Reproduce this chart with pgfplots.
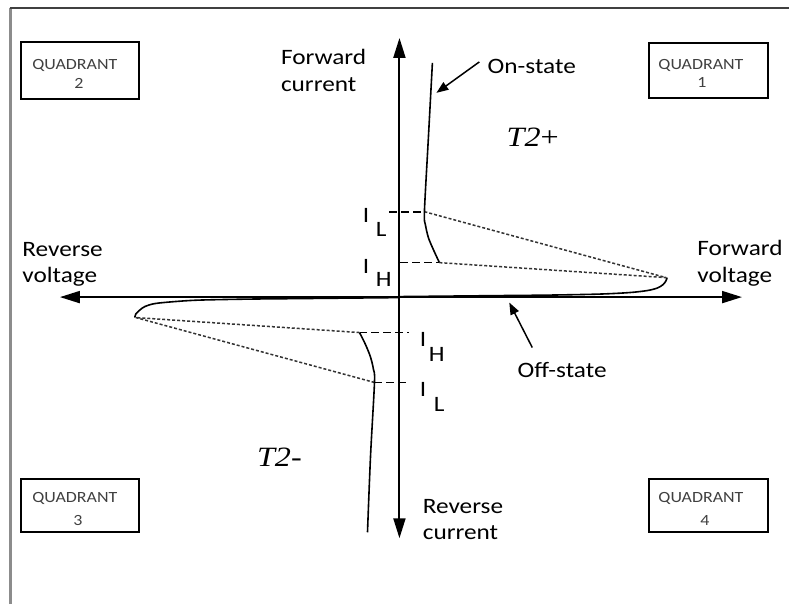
\documentclass[border=0pt]{standalone}
\usepackage{pgfplots}
\pgfplotsset{compat=1.18}
\usepackage{pgfplotstable}
\usepackage{fontspec}
\setmainfont{Carlito}[FakeStretch=1.15]
\newfontfamily\termfont{Liberation Serif}[FakeStretch=1.15]
\usetikzlibrary{arrows.meta}

% Triac I-V characteristic, origin at the crossing of the two axes
% off-state branch, first quadrant (up to the breakover point)
\pgfplotstableread{
x y
0 0.5
50 1
100 1.5
150 2
200 3
230 4.5
248 6.5
258 9
264 12.5
267 16.5
268 19.5
}\offfwd
% off-state branch, third quadrant
\pgfplotstableread{
x y
0 -0.5
-50 -1
-100 -1.5
-150 -2
-200 -3
-225 -4.5
-245 -6.5
-255 -9.5
-260 -13
-264 -17
-265 -20.5
}\offrev
% on-state branch, first quadrant
\pgfplotstableread{
x y
33 234.5
29 160
25 85.5
26 72.5
29 59.5
34 47.5
40 34.5
}\onfwd
% on-state branch, third quadrant
\pgfplotstableread{
x y
-40 -35.5
-34 -47.5
-29 -60
-26 -72.5
-25 -85.5
-29 -160
-32 -235.5
}\onrev

\begin{document}
\begin{tikzpicture}[
  lbl/.style={font=\fontsize{11}{13}\selectfont, inner sep=0pt, anchor=base west},
  qlbl/.style={font=\fontsize{7.8}{9}\selectfont, text=black!75, inner sep=0pt},
  term/.style={font=\termfont\fontsize{14}{16}\selectfont, inner sep=0pt, anchor=base west},
]
\begin{axis}[
  scale only axis, width=395pt, height=302.5pt,
  xmin=-400, xmax=390, ymin=-307.5, ymax=297.5,
  hide axis, clip=false,
]
\path (axis cs:-400,-307.5) rectangle (axis cs:390,297.5);

% outer frame
\draw[black!45, line width=1.6pt] (axis cs:-389.5,-307.5) -- (axis cs:-389.5,289.5);
\draw[black!75, line width=1.1pt] (axis cs:-390.3,289.5) -- (axis cs:390,289.5);

% quadrant boxes
\draw[line width=1pt] (axis cs:-379,198.5) rectangle (axis cs:-261,255.5);
\draw[line width=1pt] (axis cs:250,199.5) rectangle (axis cs:369,254.5);
\draw[line width=1pt] (axis cs:-379,-235.5) rectangle (axis cs:-261,-182.5);
\draw[line width=1pt] (axis cs:250,-235.5) rectangle (axis cs:369,-182.5);
\node[qlbl, anchor=base west] at (axis cs:-368,228) {QUADRANT};
\node[qlbl, anchor=base] at (axis cs:-321,208.5) {2};
\node[qlbl, anchor=base west] at (axis cs:259,228) {QUADRANT};
\node[qlbl, anchor=base] at (axis cs:303,209.5) {1};
\node[qlbl, anchor=base west] at (axis cs:-368,-205.5) {QUADRANT};
\node[qlbl, anchor=base] at (axis cs:-322,-228.5) {3};
\node[qlbl, anchor=base west] at (axis cs:259,-205.5) {QUADRANT};
\node[qlbl, anchor=base] at (axis cs:306,-228.5) {4};

% main axes
\draw[line width=1pt, {Triangle[length=10pt,width=6pt]}-{Triangle[length=10pt,width=6pt]}]
  (axis cs:-340,0) -- (axis cs:343,0);
\draw[line width=1pt, {Triangle[length=10pt,width=6pt]}-{Triangle[length=10pt,width=6pt]}]
  (axis cs:0,-241.5) -- (axis cs:0,259.5);

% latching / holding current levels
\addplot[black, line width=0.85pt, dash pattern=on 4pt off 2pt] coordinates {(-10,85.5) (25,85.5)};
\addplot[black, line width=0.85pt, dash pattern=on 4pt off 2pt] coordinates {(1,34.5) (40,34.5)};
\addplot[black, line width=0.85pt, dash pattern=on 4pt off 2pt] coordinates {(-40,-35.5) (10,-35.5)};
\addplot[black, line width=0.85pt, dash pattern=on 4pt off 2pt] coordinates {(-25,-85.5) (10,-85.5)};

% switching paths from breakover back to the on-state
\addplot[black!80, line width=0.75pt, dash pattern=on 1.5pt off 1pt] coordinates {(25,85.5) (267,19.5)};
\addplot[black!80, line width=0.75pt, dash pattern=on 1.5pt off 1pt] coordinates {(40,34.5) (267,19.5)};
\addplot[black!80, line width=0.75pt, dash pattern=on 1.5pt off 1pt] coordinates {(-40,-35.5) (-264,-20.5)};
\addplot[black!80, line width=0.75pt, dash pattern=on 1.5pt off 1pt] coordinates {(-25,-85.5) (-264,-20.5)};

% characteristic branches
\addplot[black, line width=0.8pt, smooth, tension=0.5] table {\offfwd};
\addplot[black, line width=0.8pt, smooth, tension=0.5] table {\offrev};
\addplot[black, line width=0.8pt, smooth, tension=0.5] table {\onfwd};
\addplot[black, line width=0.8pt, smooth, tension=0.5] table {\onrev};

% annotation arrows
\draw[line width=0.75pt, -{Triangle[length=6pt,width=4.5pt]}] (axis cs:80,235.5) -- (axis cs:37,204.5);
\draw[line width=0.75pt, -{Triangle[length=6pt,width=4.5pt]}] (axis cs:133,-50.5) -- (axis cs:110,-5.5);

% axis captions
\node[lbl] at (axis cs:-119,232.5) {Forward};
\node[lbl] at (axis cs:-119,205.5) {current};
\node[lbl] at (axis cs:23,-216.5) {Reverse};
\node[lbl] at (axis cs:23,-242.5) {current};
\node[lbl] at (axis cs:-378,40.5) {Reverse};
\node[lbl] at (axis cs:-378,14.5) {voltage};
\node[lbl] at (axis cs:298,41.5) {Forward};
\node[lbl] at (axis cs:298,14.5) {voltage};
\node[lbl] at (axis cs:88,223.5) {On-state};
\node[lbl] at (axis cs:118,-80.5) {Off-state};

% current level labels
\node[lbl] at (axis cs:-37,74.5) {I};
\node[lbl] at (axis cs:-24,60.5) {L};
\node[lbl] at (axis cs:-37,23.5) {I};
\node[lbl] at (axis cs:-24,10.5) {H};
\node[lbl] at (axis cs:20,-49.5) {I};
\node[lbl] at (axis cs:29,-64.5) {H};
\node[lbl] at (axis cs:20,-99.5) {I};
\node[lbl] at (axis cs:34,-114.5) {L};

% terminal polarity
\node[term] at (axis cs:107,150.5) {\itshape T2\upshape +};
\node[term] at (axis cs:-143,-169.5) {\itshape T2-};
\end{axis}
\end{tikzpicture}
\end{document}
